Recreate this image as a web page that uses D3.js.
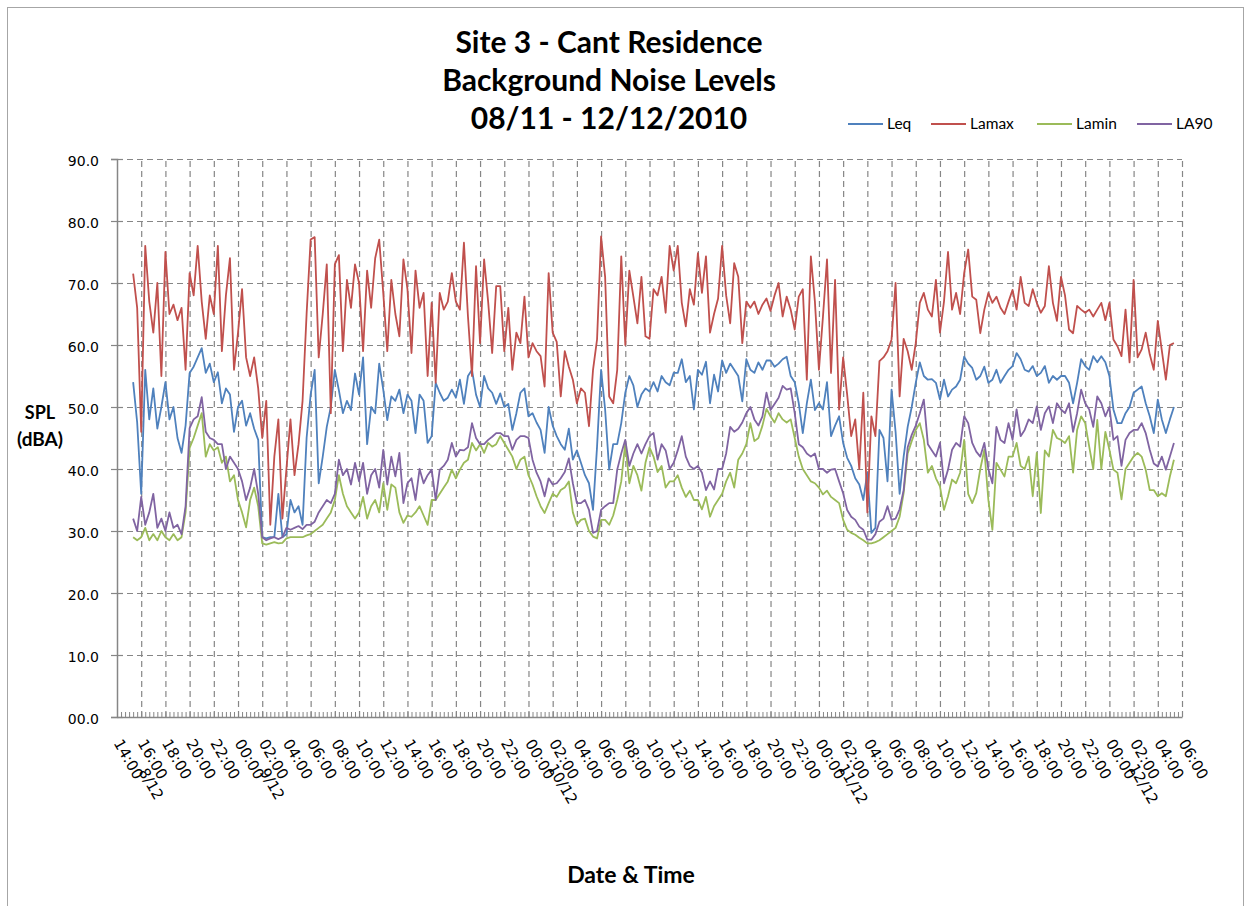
<!DOCTYPE html>
<html>
<head>
<meta charset="utf-8">
<script src="https://cdn.jsdelivr.net/npm/d3@7"></script>
<style>
  body { margin: 0; background: #fff; }
  svg { display: block; }
</style>
</head>
<body>
<div id="chart"></div>
<script>
// series names and colours
var SERIES = ["Leq", "Lamax", "Lamin", "LA90"];
var COLORS = ["#4F81BD", "#C0504D", "#9BBB59", "#8064A2"];

// x axis: 2-hourly tick labels from 14:00 8/12 to 06:00 12/12
var TICK_LABELS = ["14:00","16:00","18:00","20:00","22:00","00:00","02:00","04:00","06:00","08:00","10:00","12:00",
  "14:00","16:00","18:00","20:00","22:00","00:00","02:00","04:00","06:00","08:00","10:00","12:00",
  "14:00","16:00","18:00","20:00","22:00","00:00","02:00","04:00","06:00","08:00","10:00","12:00",
  "14:00","16:00","18:00","20:00","22:00","00:00","02:00","04:00","06:00"];
var DATE_TICKS = [0, 5, 17, 29, 41];
var DATE_LABELS = ["8/12", "9/12", "10/12", "11/12", "12/12"];

// readings every 20 minutes, first one at 15:20 on 8/12 (80 min after first tick)
var START_MIN = 80, STEP_MIN = 20;

var LEQ = [54,47.5,
  36,56,48,53,46.5,50, 54,48,50,45,42.6,47, 55.5,56.5,58,59.5,55.5,57, 54,55.6,50.6,53,52,46,
  50,51,47,49,46.5,44.7, 29,28.8,29,29,36,29, 29.5,35,33,34,31,45, 52,56,37.7,42,46.8,50,
  56,52.7,49,51,49.5,55.4, 52,58,44,50,49,57, 52.8,47.9,51.7,51,52.8,49, 52,51,45.8,52,51,44.2,
  45.3,53.9,52.3,51,51.5,52.8, 51.5,54.4,50.5,55,56,52, 50,55,53,52.3,50.5,52.2, 50,50.5,46.3,49,52.3,53,
  48.5,49,47.5,46.3,42.6,50, 47,45.3,44,43.1,46.5,41.5, 43,41,39,37.7,33.4,43.6, 56,49.6,39.9,44,44,47.4,
  52.3,55,53.5,50,52,53, 52.5,54,52.5,55,54,53.5, 55.5,55.5,57.7,54,55,49.6, 56,55.2,57.3,50.6,55.2,52.5,
  57.5,55.5,57,56,55,50.9, 57.7,56,55.5,57.2,56,57.5, 57.5,56.5,57,57.7,58.1,55, 54,50.6,45.8,50.6,54.4,49.5,
  50.6,49.6,54,45.3,47,48.5, 44.2,41.8,40.5,38.5,37.5,35, 39.4,29.7,30.5,46.3,45,38, 52.8,46,36,42,46.8,50,
  53.9,57.2,55,54.4,54.5,53.9, 51.2,54.4,51.7,52.8,53.3,54.4, 58.1,57,56.3,54.4,55,56.5, 53.9,54.4,56,53.9,55,56,
  56.6,58.7,57.7,56,55.7,56.6, 55,55.5,56.6,53.9,55,54.4, 55,55,53.9,50.6,53.9,57.7, 56.6,56,58.2,57.2,58.2,57.2,
  55,49.6,47.4,47.4,49,50, 52.3,52.8,53.3,50.6,48.5,45.8, 51.2,48,45.8,48,50];

var LAMAX = [71.5,66,
  46,76,67,62,70,55, 75,65,66.5,64,66,56, 71.6,68,76,67,61,68, 65,76,59,68,74,56,
  62,69,58,55,58,53, 45,51,31,42,48,32, 40,48,39,44,51,65, 77,77.4,58,65,73,49,
  73,74.5,59,70.5,66,73, 70,59,72,66,74,77, 68.4,59,70.5,65,61.4,73.8, 69,58.7,72,66,68.4,55,
  66.8,53.9,68.4,65.7,67,71.6, 67,65.7,76.5,64.6,55,72.7, 60.3,73.8,67,58.7,69.5,69.5, 59,66,56,62,60.3,67.8,
  58,60.3,59,58.2,53.3,71.6, 62,60.5,51.7,59,56.5,54.4, 50.6,53,52.3,46.9,56,60.9, 77.5,71,51.7,50.6,56,74.3,
  60,72,67.8,63.5,71,61.4, 61,69,68,71,65.2,76, 72,76,66.8,63,69,66.5, 74.8,68.4,74.3,62,65,67.5,
  76,68,63.5,73.2,71,60.3, 67,66,67,65,66.5,67.5, 65.5,68,70,64.6,67.8,65.7, 62.5,67.8,69,54.4,74.3,67,
  56,64.6,73.8,55.5,70.5,49.6, 58,52,45.3,48,40,52.3, 33,48.5,45.3,57.4,58,59, 60.9,70,51.7,61,59,56,
  60.3,66.8,68.4,65.7,64.6,70.5, 62,67,75,65.7,68.4,65, 71.6,75.4,67.8,67.3,61.9,65.7, 68.4,66.8,67.8,66,65,67,
  68.9,65.7,71,66.8,66.3,69, 66.8,65.2,66.3,72.7,66.8,63.9, 71,68,62.5,61.9,66.3,65.7, 65.2,65.7,64.6,65.7,66.8,64,
  66.8,60.9,59.8,58.2,65.7,57.2, 70.5,58,59.3,62,58.5,56, 63.9,59.1,54.4,60,60.3];

var LAMIN = [29,28.5,
  29,30.5,28.5,29.5,28.5,30, 29,28.5,29.5,28.5,29,33, 43.4,45,47,49,42,44, 43,43.5,41,42,38,39,
  35,33,30.6,35,37,34, 28,27.8,28,28.2,28,28.1, 28.8,29,29,29,29,29.3, 29.5,30,30.5,31,32,33,
  35,39,36,34,33,32, 33,35.5,32,34,35,33, 37.7,33.4,37.5,37,33,31.3, 32.5,32.3,33,34,32.5,31,
  35,35,36,37,38,39.9, 38.5,39.9,41,41.5,44.2,43, 44,42.6,44.2,43.6,44,45.3, 44.2,43.1,42,40,41.5,42,
  39,37.5,35.6,34,32.9,34.5, 36,35.5,36.6,37,38,33, 31,31.8,32,30,29.1,28.8, 31.8,31.8,31,32.5,35,38,
  44.2,37.7,40.5,39,36.5,41, 43.5,42,39.5,40.5,37,38, 38,39,37,35.5,36.5,35, 35,33.5,35.5,32.3,34,35,
  36,38,39.4,37,41.5,42.5, 44,47.4,44.5,45,47,49.7, 48.5,47.5,49,48,47.5,48, 45,42,40,39,38,37.7,
  37,35.9,36.5,35.5,35,34.5, 31.8,30.2,29.7,29.4,28.9,28.5, 28,28,28.2,28.5,29,29.5, 30,30.5,32.3,36.1,42.5,44.5,
  46.3,47.4,44.7,39.4,40.5,38.5, 37.2,33.4,35.6,38.3,37.7,39.4, 44.7,36,34.5,36.1,40,43.1, 35,30.2,41,39.9,38.8,42,
  42,44.2,40.5,40,42,35.6, 42.6,32.9,43,42,46.3,45, 44.7,44.2,45.3,39.4,46.3,48.5, 47.4,43.6,40,47.9,40,46,
  43.1,39.9,39.4,35.1,40,41, 42,42.6,42,39.9,36.6,36.6, 35.6,36.1,35.6,38.8,41.5];

var LA90 = [32,30,
  35.5,31,33,36,30.5,32, 30,33,30.5,31,29.5,34, 46.6,48,48.5,51.6,46,45, 44.7,44,44,40,42,41,
  40,38,35,37,40,36, 29,28.5,28.8,29,28.7,29, 30.5,30.2,30.5,30.8,30.3,31, 31,31.5,33,34,35,34.5,
  36,41.5,39,40,37.5,41, 38,41,36,39,40,37, 43.1,37.5,42,38.8,42.6,34.5, 37.7,38.5,35,40,37.7,39,
  39.9,35,39.9,40.5,41.5,44.2, 42,43.1,43,43.5,47.4,45, 44,44,44.7,45.2,45.8,45.8, 45.3,45.3,43.1,44.7,45.3,45.3,
  45,41.5,39.4,38,35.6,38.5, 37.5,37.7,38.5,39.5,41.7,37.7, 34.5,34.5,35,33.4,29.7,30, 33.4,34,34.5,34.5,39.9,42.5,
  44.7,40.5,42.5,44,42.5,44, 45.3,45.8,41.5,44,43,40, 41,43,45.3,42,40.5,40, 40.5,39.4,36.6,38,36.7,40,
  40,42.5,46.8,46,46.5,47.5, 49,50,48,47,48.5,52.3, 49.5,50.5,51.5,53.4,52.8,53, 49,44,43.5,42.5,42,42.5,
  40,40,39.4,39.9,40,38, 36.1,33.4,32.3,31.8,30.7,30.2, 28.6,28.6,29.5,31.5,32,34, 31.8,32,33.5,36.6,43.5,45.5,
  47,49,51.2,44,43,42, 44.2,37.7,39.9,43.1,44.2,43.6, 48.5,47.4,44.2,42.8,42,44.2, 40,37.7,46.8,44.7,44.2,47.4,
  44.7,49.6,45.3,46.3,48,47.4, 50.1,46.3,49,50.1,47.4,50.6, 49.6,49,50.6,46,49,52.8, 50.6,49.6,46.8,51.7,50.6,48.5,
  50,44.7,45.3,40.5,44.7,45.8, 46.3,46.3,47.4,45.8,43.1,40.9, 40.4,42,39.9,42,44.2];

var VALUES = [LEQ, LAMAX, LAMIN, LA90];

var W = 1250, H = 906;
var plotL = 117, plotR = 1182, plotT = 159, plotB = 717;
var labelFont = "'DejaVu Sans', Verdana, sans-serif";
var titleFont = "Lato, 'Open Sans', sans-serif";

var svg = d3.select("#chart").append("svg")
    .attr("width", W)
    .attr("height", H);

// chart border
svg.append("rect")
    .attr("x", 7.5).attr("y", 7.5)
    .attr("width", 1236).attr("height", 930)
    .attr("fill", "#fff")
    .attr("stroke", "#A6A6A6")
    .attr("stroke-width", 1);

var totalMin = (TICK_LABELS.length - 1) * 120;
var x = d3.scaleLinear().domain([0, totalMin]).range([plotL, plotR]);
var y = d3.scaleLinear().domain([0, 90]).range([plotB, plotT]);

var majorTicks = d3.range(TICK_LABELS.length).map(k => k * 120);

// horizontal gridlines
svg.append("g")
    .attr("transform", "translate(" + plotL + ",0)")
    .call(d3.axisLeft(y).tickValues(d3.range(10, 91, 10)).tickSize(-(plotR - plotL)).tickFormat(""))
    .call(g => g.select(".domain").remove())
    .selectAll("line")
    .attr("stroke", "#868686")
    .attr("stroke-width", 1.2)
    .attr("stroke-dasharray", "6,4");

// vertical gridlines
svg.append("g")
    .attr("transform", "translate(0," + plotB + ")")
    .call(d3.axisBottom(x).tickValues(majorTicks.slice(1)).tickSize(-(plotB - plotT)).tickFormat(""))
    .call(g => g.select(".domain").remove())
    .selectAll("line")
    .attr("stroke", "#868686")
    .attr("stroke-width", 1.2)
    .attr("stroke-dasharray", "6,4");

// small ticks on the category axis
svg.append("g")
    .attr("transform", "translate(0," + plotB + ")")
    .call(d3.axisBottom(x).tickValues(d3.range(0, totalMin + 1, STEP_MIN)).tickSize(-5).tickFormat(""))
    .call(g => g.select(".domain").remove())
    .selectAll("line")
    .attr("stroke", "#868686");

// y axis
var yAxis = svg.append("g")
    .attr("transform", "translate(" + plotL + ",0)")
    .call(d3.axisLeft(y).tickValues(d3.range(0, 91, 10)).tickFormat(d3.format("04.1f")).tickSize(6).tickPadding(12));
yAxis.select(".domain").attr("stroke", "#868686").attr("stroke-width", 1.5);
yAxis.selectAll(".tick line").attr("x1", 6).attr("stroke", "#868686").attr("stroke-width", 1.2);
yAxis.selectAll(".tick text")
    .style("font-family", labelFont)
    .style("font-size", "14px")
    .attr("fill", "#000")
    .attr("dy", "0.45em");

// x axis line and labels
var xAxis = svg.append("g")
    .attr("transform", "translate(0," + plotB + ")")
    .call(d3.axisBottom(x).tickValues(majorTicks).tickSize(0).tickFormat((d, i) => TICK_LABELS[i]));
xAxis.select(".domain").attr("stroke", "#868686").attr("stroke-width", 1.5);
xAxis.selectAll(".tick text")
    .style("font-family", labelFont)
    .style("font-size", "15px")
    .attr("fill", "#000")
    .attr("text-anchor", "start")
    .attr("dominant-baseline", "central")
    .attr("x", 0).attr("y", 0).attr("dy", null)
    .attr("transform", "translate(0,23.5) rotate(60)");

// date labels under the midnight ticks
xAxis.selectAll(".date")
    .data(DATE_TICKS)
    .join("text")
    .attr("class", "date")
    .style("font-family", labelFont)
    .style("font-size", "15px")
    .attr("fill", "#000")
    .attr("dominant-baseline", "central")
    .attr("transform", d => "translate(" + (x(d * 120) + 34) + ",67) rotate(60)")
    .text((d, i) => DATE_LABELS[i]);

// lines
var line = d3.line()
    .x((d, i) => x(START_MIN + i * STEP_MIN))
    .y(d => y(d));

svg.append("g").selectAll("path")
    .data(VALUES)
    .join("path")
    .attr("fill", "none")
    .attr("stroke", (d, i) => COLORS[i])
    .attr("stroke-width", 1.8)
    .attr("stroke-linejoin", "round")
    .attr("d", line);

// title
var title = ["Site 3 - Cant Residence", "Background Noise Levels", "08/11 - 12/12/2010"];
svg.append("g").selectAll("text")
    .data(title)
    .join("text")
    .style("font-family", titleFont)
    .attr("x", 609)
    .attr("y", (d, i) => 53 + i * 38)
    .attr("text-anchor", "middle")
    .attr("font-weight", "bold")
    .attr("font-size", 30)
    .attr("fill", "#000")
    .text(d => d);

// axis titles
svg.append("text")
    .style("font-family", titleFont)
    .attr("x", 40).attr("y", 419)
    .attr("text-anchor", "middle")
    .attr("font-weight", "bold")
    .attr("font-size", 18)
    .text("SPL");
svg.append("text")
    .style("font-family", titleFont)
    .attr("x", 40).attr("y", 446)
    .attr("text-anchor", "middle")
    .attr("font-weight", "bold")
    .attr("font-size", 19)
    .text("(dBA)");
svg.append("text")
    .style("font-family", titleFont)
    .attr("x", 631).attr("y", 883)
    .attr("text-anchor", "middle")
    .attr("font-weight", "bold")
    .attr("font-size", 23)
    .text("Date & Time");

// legend
var legendX = [848, 931, 1037, 1137];
var legend = svg.append("g").selectAll("g")
    .data(SERIES)
    .join("g")
    .attr("transform", (d, i) => "translate(" + legendX[i] + ",124)");
legend.append("line")
    .attr("x1", 0).attr("x2", 35)
    .attr("stroke", (d, i) => COLORS[i])
    .attr("stroke-width", 2);
legend.append("text")
    .style("font-family", titleFont)
    .attr("x", 39).attr("y", 5)
    .attr("font-size", 15.5)
    .attr("fill", "#000")
    .text(d => d);
</script>
</body>
</html>
